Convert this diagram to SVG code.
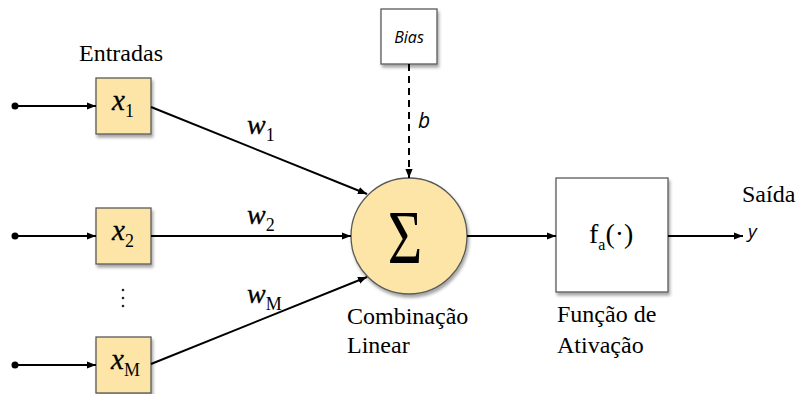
<svg xmlns="http://www.w3.org/2000/svg" width="798" height="394" viewBox="0 0 798 394">
<defs>
  <filter id="sh" x="-20%" y="-20%" width="150%" height="150%">
    <feDropShadow dx="1.5" dy="3" stdDeviation="1.8" flood-color="#000" flood-opacity="0.35"/>
  </filter>
  <marker id="arr" viewBox="0 0 10 10" refX="10" refY="5" markerWidth="9" markerHeight="9" markerUnits="userSpaceOnUse" orient="auto">
    <path d="M0,1 L10,5 L0,9 Z" fill="#000"/>
  </marker>
</defs>
<style>
  .in { fill: #FCE5A6; stroke: #5a5a5a; stroke-width: 1.3; }
  .wb { fill: #fff; stroke: #5a5a5a; stroke-width: 1.3; }
  .ln { stroke: #000; stroke-width: 2; fill: none; }
  .sf { font-family: 'Liberation Serif', 'DejaVu Serif', serif; fill: #000; }
  .ss { font-family: 'Open Sans', 'Liberation Sans', sans-serif; fill: #000; }
  .lbl { font-size: 24px; }
  .var { font-style: italic; stroke: #000; stroke-width: 0.3; }
  .sub { font-style: normal; stroke: none; }
</style>

<text class="sf lbl" x="79" y="61">Entradas</text>

<g id="x1">
  <rect class="in" x="96" y="78" width="55" height="56" filter="url(#sh)"/>
  <text class="sf var" x="112" y="110" font-size="29">x<tspan class="sub" font-size="18" dy="7">1</tspan></text>
</g>
<g id="x2">
  <rect class="in" x="96" y="208" width="55" height="56" filter="url(#sh)"/>
  <text class="sf var" x="112" y="240" font-size="29">x<tspan class="sub" font-size="18" dy="7">2</tspan></text>
</g>
<g id="dots" fill="#223">
  <circle cx="123" cy="290" r="1.3"/>
  <circle cx="123" cy="298" r="1.3"/>
  <circle cx="123" cy="306" r="1.3"/>
</g>
<g id="xM">
  <rect class="in" x="96" y="337" width="55" height="56" filter="url(#sh)"/>
  <text class="sf var" x="111" y="369" font-size="29">x<tspan class="sub" font-size="18" dy="7">M</tspan></text>
</g>

<g id="bias">
  <rect class="wb" x="381" y="9" width="56" height="55" filter="url(#sh)"/>
  <text class="ss" x="409" y="43" font-size="16" font-style="italic" text-anchor="middle">Bias</text>
</g>

<g id="sum">
  <circle class="in" cx="409" cy="236" r="58" filter="url(#sh)"/>
  <text class="sf" x="405" y="263" font-size="76" text-anchor="middle" transform="translate(405 0) scale(0.78 1) translate(-405 0)">Σ</text>
  <text class="sf lbl" x="347" y="324">Combinação</text>
  <text class="sf lbl" x="347" y="353">Linear</text>
</g>

<g id="act">
  <rect class="wb" x="556" y="178" width="112" height="114" filter="url(#sh)"/>
  <text class="sf" x="589" y="243" font-size="28">f<tspan font-size="16" dy="7">a</tspan><tspan dy="-7">(·)</tspan></text>
  <text class="sf lbl" x="557" y="322">Função de</text>
  <text class="sf lbl" x="557" y="353">Ativação</text>
</g>

<g id="out">
  <text class="sf lbl" x="742" y="202">Saída</text>
  <text class="ss" x="748" y="238" font-size="19" font-style="italic" fill="#1a2050">y</text>
</g>

<g id="connectors">
  <circle cx="15" cy="106" r="3.5" fill="#000"/>
  <circle cx="15" cy="236" r="3.5" fill="#000"/>
  <circle cx="15" cy="365" r="3.5" fill="#000"/>
  <line class="ln" x1="15" y1="106" x2="96" y2="106" marker-end="url(#arr)"/>
  <line class="ln" x1="15" y1="236" x2="96" y2="236" marker-end="url(#arr)"/>
  <line class="ln" x1="15" y1="365" x2="96" y2="365" marker-end="url(#arr)"/>
  <line class="ln" x1="151" y1="107" x2="367" y2="194" marker-end="url(#arr)"/>
  <line class="ln" x1="151" y1="236" x2="351" y2="236" marker-end="url(#arr)"/>
  <line class="ln" x1="151" y1="364" x2="367" y2="277" marker-end="url(#arr)"/>
  <line class="ln" x1="409" y1="64" x2="409" y2="178" stroke-dasharray="7 5" marker-end="url(#arr)"/>
  <line class="ln" x1="467" y1="236" x2="556" y2="236" marker-end="url(#arr)"/>
  <line class="ln" x1="668" y1="236" x2="743" y2="236" marker-end="url(#arr)"/>
  <text class="sf var" x="247" y="134" font-size="28">w<tspan class="sub" font-size="18" dy="7">1</tspan></text>
  <text class="sf var" x="247" y="224" font-size="28">w<tspan class="sub" font-size="18" dy="7">2</tspan></text>
  <text class="sf var" x="247" y="303" font-size="28">w<tspan class="sub" font-size="18" dy="7">M</tspan></text>
  <text class="ss" x="418" y="128" font-size="21" font-style="italic">b</text>
</g>
</svg>
